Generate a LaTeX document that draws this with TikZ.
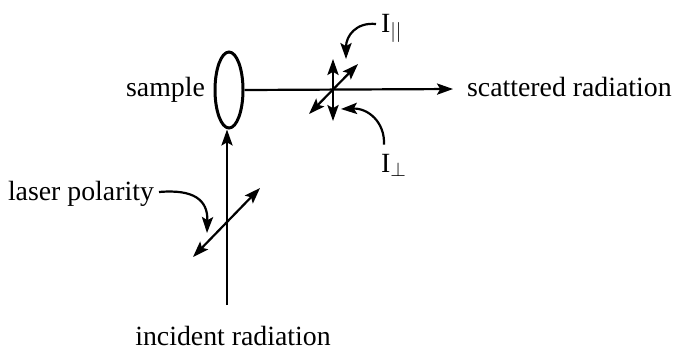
\documentclass[tikz,border=0pt]{standalone}
\usepackage{fontspec}
\setmainfont{Liberation Serif}
\usetikzlibrary{arrows.meta,shapes.geometric}
\begin{document}
\begin{tikzpicture}[x=0.5pt,y=-0.5pt, line width=1.1pt,
  tipend/.style={-{Stealth[length=8pt,width=5.6pt,inset=1.6pt]}},
  tipboth/.style={{Stealth[length=8pt,width=5.6pt,inset=1.6pt]}-{Stealth[length=8pt,width=5.6pt,inset=1.6pt]}},
  lbl/.style={font=\fontsize{13.9}{16}\selectfont, inner sep=0pt}]
\useasboundingbox (0,0) rectangle (673,350);
% sample ellipse
\node[draw, ellipse, line width=1.5pt, minimum width=14pt, minimum height=38pt, inner sep=0pt] (sample) at (229,90) {};
% labels
\node[lbl, anchor=base east] (samplelbl) at (206,96) {sample};
\node[lbl, anchor=base west] (scat) at (466,96) {scattered radiation};
\node[lbl, anchor=base] (inc) at (233,345) {incident radiation};
\node[lbl, anchor=base east] (laser) at (155,200) {laser polarity};
\node[lbl, anchor=base west] (ipar) at (380,32) {I$_{||}$};
\node[lbl, anchor=base west] (iperp) at (380,172) {I$_{\perp}$};
% incident beam
\coordinate (incstart) at (227,305);
\draw[tipend] (incstart) -- (incstart |- sample.south);
% scattered beam
\coordinate (scatend) at (453,89);
\draw[tipend] (sample.east) -- (scatend);
% scattered polarisation arrows
\coordinate (vtop) at (333,59);
\coordinate (vbot) at (333,121);
\draw[tipboth] (vbot) -- (vtop);
\coordinate (dlo) at (309,114);
\coordinate (dhi) at (358,64);
\draw[tipboth] (dlo) -- (dhi);
% laser polarisation arrow
\coordinate (llo) at (193,257);
\coordinate (lhi) at (260,188);
\draw[tipboth] (llo) -- (lhi);
% pointer curves
\coordinate (lptip) at (207,233);
\draw[tipend] ([xshift=2pt,yshift=4pt]laser.base east) .. controls (194,189) and (208,200) .. (lptip);
\coordinate (partip) at (346,59);
\draw[tipend] ([shift={(-2pt,4pt)}]ipar.base west) .. controls (356,22) and (346,36) .. (partip);
\coordinate (perptip) at (341,109);
\draw[tipend] ([shift={(2pt,4pt)}]iperp.north west) .. controls (385,122) and (368,108) .. (perptip);
\end{tikzpicture}
\end{document}
